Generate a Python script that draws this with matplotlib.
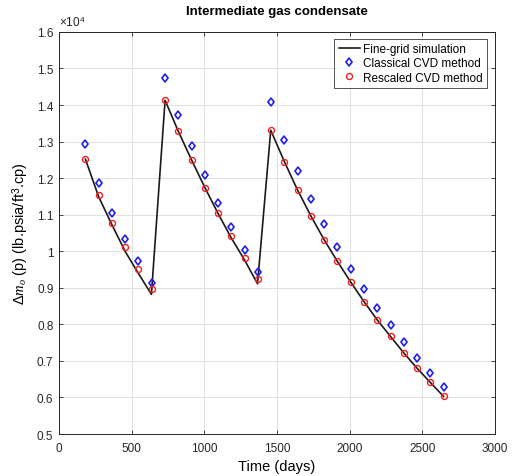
import matplotlib
matplotlib.use('Agg')
import matplotlib.pyplot as plt
from matplotlib.ticker import FuncFormatter

plt.rcParams['font.family'] = ['Liberation Sans', 'DejaVu Sans']
plt.rcParams['mathtext.fontset'] = 'custom'
plt.rcParams['mathtext.rm'] = 'Liberation Sans'
plt.rcParams['mathtext.it'] = 'Liberation Serif:italic'

# time (days) and delta m_o(p) in units of 1e4
sim_days = [182, 273, 365, 456, 547, 636, 730, 821, 912, 1004, 1095, 1186, 1277, 1366,
            1457, 1551, 1642, 1734, 1825, 1916, 2007, 2099, 2190, 2281, 2372, 2464, 2555, 2646]
sim_vals = [1.252, 1.149, 1.072, 0.999, 0.939, 0.882, 1.413, 1.328, 1.250, 1.174, 1.103, 1.036, 0.976, 0.911,
            1.331, 1.245, 1.167, 1.096, 1.031, 0.972, 0.916, 0.862, 0.812, 0.767, 0.722, 0.680, 0.641, 0.603]

pt_days = [182, 273, 365, 456, 547, 638, 730, 821, 912, 1004, 1095, 1186, 1277, 1369,
           1460, 1551, 1642, 1734, 1825, 1916, 2007, 2099, 2190, 2281, 2372, 2464, 2555, 2646]
classical = [1.294, 1.187, 1.105, 1.034, 0.973, 0.914, 1.473, 1.373, 1.289, 1.209, 1.133, 1.066, 1.003, 0.943,
             1.407, 1.303, 1.220, 1.142, 1.074, 1.011, 0.952, 0.897, 0.845, 0.797, 0.751, 0.708, 0.666, 0.628]
rescaled = [1.252, 1.153, 1.077, 1.011, 0.951, 0.896, 1.413, 1.328, 1.250, 1.173, 1.105, 1.041, 0.982, 0.924,
            1.331, 1.245, 1.167, 1.096, 1.031, 0.972, 0.916, 0.862, 0.812, 0.767, 0.722, 0.680, 0.641, 0.603]

fig = plt.figure(figsize=(5.12, 4.77), dpi=100)
ax = fig.add_axes([0.1152, 0.088, 0.8516, 0.843])

ax.plot(sim_days, sim_vals, color='#1a1a1a', linewidth=1.2, label='Fine-grid simulation', zorder=3)
ax.plot(pt_days, classical, linestyle='none', marker='d', markersize=4.5, markerfacecolor='none',
        markeredgecolor='#1f1fe6', markeredgewidth=1.2, label='Classical CVD method', zorder=4)
ax.plot(pt_days, rescaled, linestyle='none', marker='o', markersize=4.3, markerfacecolor='none',
        markeredgecolor='#f01f1f', markeredgewidth=1.0, label='Rescaled CVD method', zorder=5)

ax.set_xlim(0, 3000)
ax.set_ylim(0.5, 1.6)
ax.set_xticks([0, 500, 1000, 1500, 2000, 2500, 3000])
ax.set_yticks([0.5, 0.6, 0.7, 0.8, 0.9, 1.0, 1.1, 1.2, 1.3, 1.4, 1.5, 1.6])
ax.yaxis.set_major_formatter(FuncFormatter(lambda v, p: '%g' % round(v, 2)))

ax.grid(True, color='#e0e0e0', linewidth=0.7)
ax.set_axisbelow(True)
for s in ax.spines.values():
    s.set_color('#262626')
    s.set_linewidth(0.7)
ax.tick_params(direction='in', top=True, right=True, length=3, width=0.6,
               labelsize=8.5, colors='#262626', labelcolor='#262626')
ax.tick_params(axis='x', pad=6)
ax.tick_params(axis='y', pad=4)

ax.text(0.0, 1.008, r'$\times10^4$', transform=ax.transAxes, fontsize=8.5, color='#262626',
        ha='left', va='bottom')
ax.set_title('Intermediate gas condensate', fontsize=9.5, fontweight='bold', pad=13)
ax.set_xlabel('Time (days)', fontsize=10.5, labelpad=3)
ax.set_ylabel(r'$\Delta\mathit{m}_o$ (p) (lb.psia/ft$^3$.cp)', fontsize=10.5, labelpad=4)

leg = ax.legend(loc='upper right', bbox_to_anchor=(0.982, 0.983), fontsize=8.5, frameon=True,
                fancybox=False, borderaxespad=0.0, handlelength=1.8, handletextpad=0.3,
                borderpad=0.35, labelspacing=0.2)
leg.get_frame().set_edgecolor('#262626')
leg.get_frame().set_linewidth(0.7)

fig.savefig('out.png', dpi=100)
